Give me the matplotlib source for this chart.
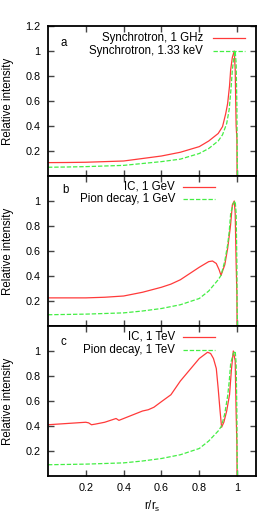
import numpy as np
import matplotlib
matplotlib.use("Agg")
import matplotlib.pyplot as plt

plt.rcParams['font.family'] = ['Liberation Sans', 'DejaVu Sans']

# panel a: synchrotron
r_sync_radio = [0, 0.1, 0.2, 0.3, 0.4, 0.5, 0.6, 0.7, 0.8, 0.85, 0.9, 0.923, 0.94, 0.95,
                0.96, 0.966, 0.975, 0.985, 0.99, 0.995, 0.999, 1.0]
i_sync_radio = [0.107, 0.108, 0.11, 0.115, 0.12, 0.14, 0.16, 0.19, 0.235, 0.28, 0.34, 0.395,
                0.5, 0.58, 0.72, 0.85, 0.95, 1.0, 0.85, 0.4, 0.3, 0.0]
r_sync_x = [0, 0.1, 0.2, 0.3, 0.4, 0.5, 0.6, 0.7, 0.8, 0.85, 0.9, 0.923, 0.945, 0.958,
            0.968, 0.975, 0.983, 0.99, 0.995, 0.999, 1.0, 1.002]
i_sync_x = [0.07, 0.072, 0.075, 0.08, 0.085, 0.1, 0.115, 0.135, 0.18, 0.22, 0.28, 0.33,
            0.42, 0.53, 0.7, 0.85, 0.95, 1.0, 0.9, 0.55, 0.3, 0.0]

# panel b: 1 GeV
r_ic_gev = [0, 0.1, 0.2, 0.3, 0.4, 0.45, 0.5, 0.55, 0.6, 0.65, 0.7, 0.75, 0.8, 0.85, 0.87,
            0.89, 0.905, 0.915, 0.935, 0.95, 0.965, 0.975, 0.985, 0.99, 0.995, 0.999, 1.0]
i_ic_gev = [0.225, 0.225, 0.225, 0.23, 0.24, 0.255, 0.27, 0.29, 0.31, 0.335, 0.37, 0.42,
            0.47, 0.515, 0.52, 0.5, 0.45, 0.405, 0.49, 0.62, 0.8, 0.97, 1.0, 0.9, 0.5, 0.25, 0.0]
r_pi_gev = [0, 0.2, 0.4, 0.5, 0.6, 0.7, 0.8, 0.85, 0.9, 0.915, 0.935, 0.95, 0.958, 0.966,
            0.98, 0.99, 0.995, 0.999, 1.0, 1.002]
i_pi_gev = [0.09, 0.095, 0.105, 0.12, 0.14, 0.17, 0.22, 0.28, 0.37, 0.405, 0.52, 0.65, 0.75,
            0.9, 0.98, 1.0, 0.9, 0.5, 0.2, 0.0]

# panel c: 1 TeV
r_ic_tev = [0, 0.05, 0.1, 0.15, 0.2, 0.215, 0.23, 0.25, 0.3, 0.34, 0.36, 0.375, 0.4, 0.45,
            0.5, 0.53, 0.56, 0.6, 0.65, 0.7, 0.75, 0.8, 0.844, 0.86, 0.875, 0.89, 0.9, 0.91,
            0.918, 0.93, 0.945, 0.96, 0.97, 0.98, 0.99, 0.995, 0.999, 1.0]
i_ic_tev = [0.41, 0.415, 0.42, 0.425, 0.43, 0.425, 0.41, 0.415, 0.43, 0.45, 0.46, 0.445,
            0.46, 0.49, 0.52, 0.53, 0.55, 0.595, 0.65, 0.76, 0.85, 0.94, 0.99, 0.98, 0.94,
            0.86, 0.7, 0.52, 0.39, 0.43, 0.52, 0.65, 0.85, 1.0, 0.92, 0.5, 0.25, 0.0]
r_pi_tev = [0, 0.2, 0.4, 0.5, 0.6, 0.7, 0.8, 0.85, 0.9, 0.918, 0.935, 0.95, 0.958, 0.966,
            0.98, 0.99, 0.995, 0.999, 1.0, 1.002]
i_pi_tev = [0.09, 0.095, 0.105, 0.12, 0.14, 0.17, 0.22, 0.28, 0.36, 0.4, 0.5, 0.64, 0.75,
            0.9, 0.98, 1.0, 0.9, 0.5, 0.2, 0.0]

panels = [
    ("a", r_sync_radio, i_sync_radio, "Synchrotron, 1 GHz", r_sync_x, i_sync_x, "Synchrotron, 1.33 keV"),
    ("b", r_ic_gev, i_ic_gev, "IC, 1 GeV", r_pi_gev, i_pi_gev, "Pion decay, 1 GeV"),
    ("c", r_ic_tev, i_ic_tev, "IC, 1 TeV", r_pi_tev, i_pi_tev, "Pion decay, 1 TeV"),
]

red = "#ff3a3a"
green = "#44ee44"
dash = (3.5, 1.5)

fig = plt.figure(figsize=(2.8, 5.16), dpi=100)
left, width, height = 48 / 280, 208 / 280, 150 / 516
bottoms = [1 - 176 / 516, 1 - 326 / 516, 1 - 476 / 516]
# legend placement (axes fraction): text right end, line start/end, row y's
leg = [(0.745, 0.793, 0.947, 0.92, 0.833),
       (0.61, 0.649, 0.803, 0.927, 0.847),
       (0.61, 0.649, 0.803, 0.929, 0.84)]
lab_pos = [(0.058, 0.887), (0.067, 0.907), (0.058, 0.893)]

for k, (lab, r1, i1, n1, r2, i2, n2) in enumerate(panels):
    ax = fig.add_axes([left, bottoms[k], width, height])
    ax.plot(r1, i1, color=red, lw=0.9)
    ax.plot(r2, i2, color=green, lw=0.9, dashes=dash)
    ax.set_xlim(0, 1.1)
    ax.set_ylim(0, 1.2)
    ax.set_xticks([0.2, 0.4, 0.6, 0.8, 1.0])
    if k == 0:
        ax.set_yticks([0.2, 0.4, 0.6, 0.8, 1.0, 1.2])
        ax.set_yticklabels(["0.2", "0.4", "0.6", "0.8", "1", "1.2"])
    else:
        ax.set_yticks([0.2, 0.4, 0.6, 0.8, 1.0])
        ax.set_yticklabels(["0.2", "0.4", "0.6", "0.8", "1"])
    if k == 2:
        ax.set_xticklabels(["0.2", "0.4", "0.6", "0.8", "1"])
        ax.set_xlabel("r/r$_\\mathregular{s}$", fontsize=8.3)
        ax.xaxis.set_label_coords(0.5, -0.15)
    else:
        ax.set_xticklabels([])
    ax.tick_params(direction="in", top=True, right=True, length=4.5, width=1.0,
                   color="#444444", labelsize=7.8)
    ax.tick_params(axis="y", pad=5.5)
    ax.tick_params(axis="x", pad=5)
    for s in ax.spines.values():
        s.set_linewidth(1.3)
    ax.set_ylabel("Relative intensity", fontsize=8.3)
    ax.yaxis.set_label_coords(-0.165, 0.5)
    ax.text(lab_pos[k][0], lab_pos[k][1], lab, transform=ax.transAxes, fontsize=8.3,
            ha="left", va="center")
    tx, l0, l1, y1, y2 = leg[k]
    ax.text(tx, y1, n1, transform=ax.transAxes, fontsize=8.3, ha="right", va="center")
    ax.text(tx, y2, n2, transform=ax.transAxes, fontsize=8.3, ha="right", va="center")
    ax.plot([l0, l1], [y1, y1], transform=ax.transAxes, color=red, lw=0.9)
    ax.plot([l0, l1], [y2, y2], transform=ax.transAxes, color=green, lw=0.9, dashes=dash)

fig.savefig("out.png", dpi=100)
